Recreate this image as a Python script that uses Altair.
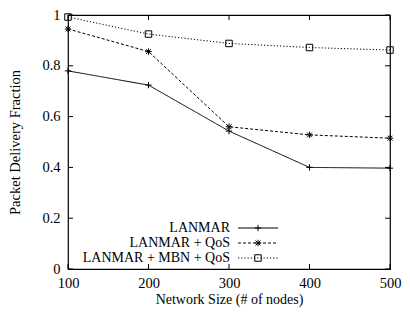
import altair as alt
import pandas as pd

sizes = [100, 200, 300, 400, 500]
series_names = ["LANMAR", "LANMAR + QoS", "LANMAR + MBN + QoS"]
lanmar = [0.78, 0.724, 0.543, 0.400, 0.397]
lanmar_qos = [0.945, 0.856, 0.560, 0.528, 0.515]
lanmar_mbn_qos = [0.992, 0.925, 0.888, 0.872, 0.862]
x_ticks = [100, 200, 300, 400, 500]
y_ticks = [0, 0.2, 0.4, 0.6, 0.8, 1.0]

W, H = 322, 254
FONT = "Liberation Serif"
FS = 14.5

PLUS = "M-1,0L1,0M0,-1L0,1"
STAR = "M-1,0L1,0M0,-1L0,1M-0.75,-0.75L0.75,0.75M-0.75,0.75L0.75,-0.75"
styles = [
    {"dash": [1, 0], "shape": PLUS, "size": 40},
    {"dash": [3, 2], "shape": STAR, "size": 42},
    {"dash": [1.2, 2], "shape": "square", "size": 42},
]
all_vals = [lanmar, lanmar_qos, lanmar_mbn_qos]

xs = alt.Scale(domain=[100, 500], nice=False)
ys = alt.Scale(domain=[0, 1], nice=False)

layers = []
for i, (name, vals) in enumerate(zip(series_names, all_vals)):
    df = pd.DataFrame({"size": sizes, "value": vals, "series": name})
    st = styles[i]
    base = alt.Chart(df)
    line = base.mark_line(color="black", strokeWidth=1, strokeDash=st["dash"]).encode(
        x=alt.X("size:Q", scale=xs,
                axis=alt.Axis(values=x_ticks, format="d", title="Network Size (# of nodes)",
                              labelFlush=False)),
        y=alt.Y("value:Q", scale=ys,
                axis=alt.Axis(values=y_ticks, format="~g", title="Packet Delivery Fraction")),
    )
    pts = base.mark_point(shape=st["shape"], size=st["size"], filled=False,
                          color="black", strokeWidth=1, opacity=1).encode(
        x=alt.X("size:Q", scale=xs), y=alt.Y("value:Q", scale=ys))
    layers += [line, pts]

    # legend entry
    ly = 213 + 15 * i
    one = alt.Data(values=[{"k": 0}])
    layers.append(alt.Chart(one).mark_text(
        align="right", baseline="middle", font=FONT, fontSize=14, color="black",
        text=name).encode(x=alt.value(162), y=alt.value(ly)))
    layers.append(alt.Chart(one).mark_rule(
        color="black", strokeWidth=1, strokeDash=st["dash"]).encode(
        x=alt.value(170), x2=alt.value(210), y=alt.value(ly)))
    layers.append(alt.Chart(one).mark_point(
        shape=st["shape"], size=st["size"], filled=False, color="black",
        strokeWidth=1, opacity=1).encode(x=alt.value(190), y=alt.value(ly)))

# inward tick marks on all four sides
xt = pd.DataFrame({"t": x_ticks})
yt = pd.DataFrame({"t": y_ticks})
TL = 5
layers.append(alt.Chart(xt).mark_rule(color="black", strokeWidth=1).encode(
    x=alt.X("t:Q", scale=xs), y=alt.value(H), y2=alt.value(H - TL)))
layers.append(alt.Chart(xt).mark_rule(color="black", strokeWidth=1).encode(
    x=alt.X("t:Q", scale=xs), y=alt.value(0), y2=alt.value(TL)))
layers.append(alt.Chart(yt).mark_rule(color="black", strokeWidth=1).encode(
    y=alt.Y("t:Q", scale=ys), x=alt.value(0), x2=alt.value(TL)))
layers.append(alt.Chart(yt).mark_rule(color="black", strokeWidth=1).encode(
    y=alt.Y("t:Q", scale=ys), x=alt.value(W), x2=alt.value(W - TL)))

chart = alt.layer(*layers).properties(
    width=W, height=H,
    autosize=alt.AutoSizeParams(type="none"),
    padding={"left": 60, "top": 7, "right": 12, "bottom": 40},
).configure_view(stroke="black", strokeWidth=1.2).configure_axis(
    domain=False, ticks=False, tickSize=0, grid=False,
    labelFont=FONT, labelFontSize=FS, labelColor="black",
    titleFont=FONT, titleFontSize=FS, titleColor="black", titleFontWeight="normal",
).configure_axisX(labelPadding=7, titlePadding=3, titleFontSize=14).configure_axisY(
    labelPadding=8, titlePadding=19)

chart.save("out.html", embed_options={"renderer": "svg", "actions": False})
